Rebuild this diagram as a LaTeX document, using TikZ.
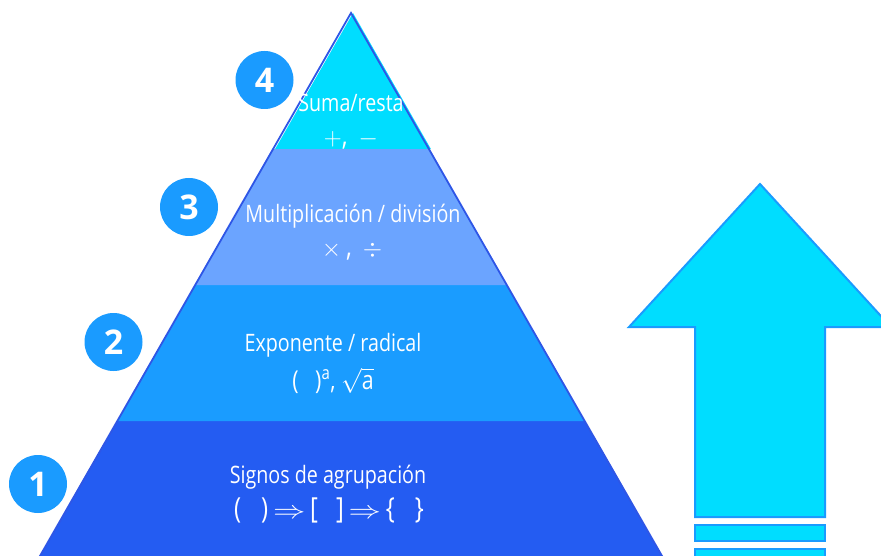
\documentclass[tikz,border=0pt]{standalone}
\usepackage{fontspec}
\setmainfont{Open Sans}[FakeStretch=0.82]
\newfontfamily\badgefont{Open Sans}
\usetikzlibrary{positioning}
\definecolor{tiercyan}{HTML}{00DDFF}
\definecolor{tierlight}{HTML}{6BA4FF}
\definecolor{tiermid}{HTML}{1A9CFF}
\definecolor{tierdark}{HTML}{245CF2}
\definecolor{rimblue}{HTML}{2E56E6}
\definecolor{badgeblue}{HTML}{1A9BFF}
\newcommand{\thenarrow}{\,\scalebox{1.3}[1]{$\Rightarrow$}\,}

\begin{document}
\begin{tikzpicture}[
  x=1pt, y=-1pt,
  title/.style={text=white, anchor=base, inner sep=0pt, font=\fontsize{24}{28}\selectfont},
  symb/.style={text=white, anchor=base, inner sep=0pt, font=\fontsize{29}{32}\selectfont},
  badge/.style={circle, fill=badgeblue, text=white, minimum size=58pt, inner sep=0pt, font=\badgefont\bfseries\fontsize{34}{34}\selectfont},
  bigarrow/.style={fill=tiercyan, draw=badgeblue, line width=2pt}
]
\useasboundingbox (0,0) rectangle (881,556);
\clip (0,0) rectangle (881,556);

% pyramid tiers
\fill[tierdark] (117.3,421) -- (584.7,421) -- (664.3,560) -- (37.7,560) -- cycle;
\fill[tiermid] (195.2,285) -- (506.8,285) -- (584.7,421) -- (117.3,421) -- cycle;
\fill[tierlight] (273.1,149) -- (428.9,149) -- (506.8,285) -- (195.2,285) -- cycle;
\fill[tiercyan, xshift=2pt] (351,13) -- (428.9,149) -- (273.1,149) -- cycle;
\coordinate (apex) at (351,13);
\coordinate (baseL) at (37.7,560);
\coordinate (baseR) at (664.3,560);
\draw[rimblue, line width=1.8pt, line join=miter] (baseL) -- (apex) -- (baseR);

% labels
\node[title] (suma) at (351,112) {Suma/resta};
\node[symb] (sumasym) at (351,146) {$+$,\ \,$-$};
\node[title] (mult) at (353,223) {Multiplicación / división};
\node[symb] (multsym) at (352,256) {$\times$\,,\ \,$\div$};
\node[title] (expo) at (333,351) {Exponente / radical};
\node[symb, font=\fontsize{26}{30}\selectfont] (exposym) at (333,389) {(\ \ \ )\textsuperscript{a}, $\sqrt{\mbox{a}}$};
\node[title] (agrup) at (328,483) {Signos de agrupación};
\node[symb] (agrupsym) at (329,518) {(\hspace{20pt})\thenarrow[\hspace{18pt}]\thenarrow\{\hspace{20pt}\}};

% step numbers
\node[badge] (n4) at (264.5,80) {4};
\node[badge] (n3) at (189,207) {3};
\node[badge] (n2) at (113.5,342) {2};
\node[badge] (n1) at (38,484) {1};

% arrow
\draw[bigarrow] (760,184) -- (891,327) -- (825,327) -- (825,517) -- (695,517)
  -- (695,327) -- (629,327) -- cycle;
\draw[bigarrow] (695,525) rectangle (825,541);
\draw[bigarrow] (695,549) rectangle (825,570);
\end{tikzpicture}
\end{document}
